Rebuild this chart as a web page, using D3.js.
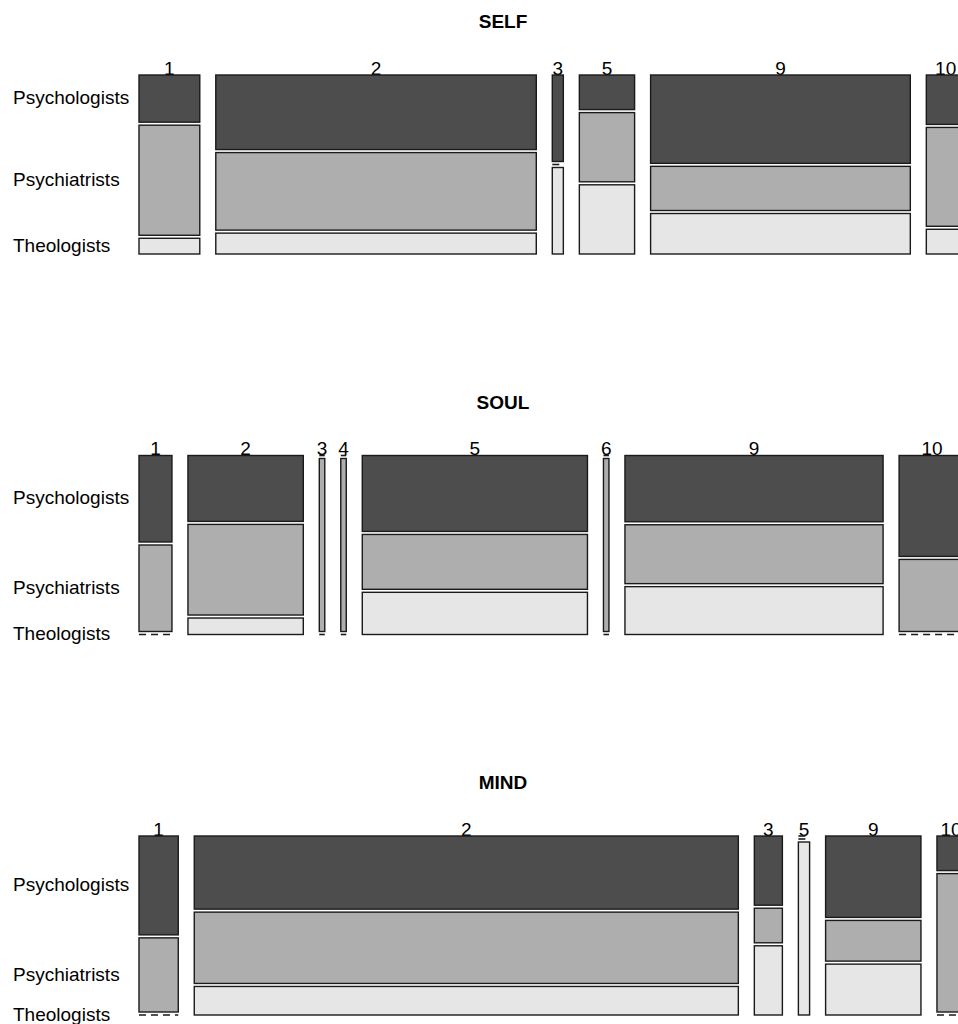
<!DOCTYPE html>
<html>
<head>
<meta charset="utf-8">
<script src="https://cdn.jsdelivr.net/npm/d3@7"></script>
<style>
  html, body { margin: 0; padding: 0; background: #fff; overflow: hidden; }
  text { font-family: "Liberation Sans", Arial, Helvetica, sans-serif; fill: #000; }
</style>
</head>
<body>
<svg id="chart"></svg>
<script>
// Row variable (same for every panel)
const professions = ["Psychologists", "Psychiatrists", "Theologists"];

// SELF panel
const selfCategories = ["1", "2", "3", "5", "9", "10"];
const selfPsychologists = [3, 25, 1, 2, 24, 2];
const selfPsychiatrists = [7, 26, 0, 4, 12, 4];
const selfTheologists = [1, 7, 1, 4, 11, 1];

// SOUL panel
const soulCategories = ["1", "2", "3", "4", "5", "6", "9", "10"];
const soulPsychologists = [3, 8, 0, 0, 18, 0, 18, 7];
const soulPsychiatrists = [3, 11, 1, 1, 13, 1, 16, 5];
const soulTheologists = [0, 2, 0, 0, 10, 0, 13, 0];

// MIND panel
const mindCategories = ["1", "2", "3", "5", "9", "10"];
const mindPsychologists = [4, 41, 2, 0, 8, 1];
const mindPsychiatrists = [3, 40, 1, 0, 4, 4];
const mindTheologists = [0, 16, 2, 2, 5, 0];

const panels = [
  { title: "SELF", cats: selfCategories, counts: [selfPsychologists, selfPsychiatrists, selfTheologists] },
  { title: "SOUL", cats: soulCategories, counts: [soulPsychologists, soulPsychiatrists, soulTheologists] },
  { title: "MIND", cats: mindCategories, counts: [mindPsychologists, mindPsychiatrists, mindTheologists] }
];

// grey.colors(3) like R
const fills = ["#4D4D4D", "#AEAEAE", "#E6E6E6"];

// Layout
const left = 139;
const plotW = 826;
const colGap = 16;
const rowGap = 3;
const boxH = 179;
const firstTop = 75;
const panelStep = 380.5;

const svg = d3.select("#chart")
  .attr("width", 1000)
  .attr("height", 1024);

panels.forEach((p, pi) => {
  const top = firstTop + pi * panelStep;
  const g = svg.append("g");

  // title
  g.append("text")
    .attr("x", 503)
    .attr("y", top - 47)
    .attr("text-anchor", "middle")
    .style("font-size", "19px")
    .style("font-weight", "bold")
    .text(p.title);

  const n = p.cats.length;
  const totals = p.cats.map((c, j) => d3.sum(p.counts, r => r[j]));
  const grand = d3.sum(totals);
  const starts = [0, ...d3.cumsum(totals)];

  // column widths proportional to column totals
  const xScale = d3.scaleLinear()
    .domain([0, grand])
    .range([0, plotW - colGap * (n - 1)]);

  p.cats.forEach((cat, j) => {
    const x0 = left + xScale(starts[j]) + j * colGap;
    const w = xScale(totals[j]);

    // column label
    g.append("text")
      .attr("x", x0 + w / 2)
      .attr("y", top - 0.5)
      .attr("text-anchor", "middle")
      .style("font-size", "19px")
      .text(cat);

    // heights inside the column
    const yScale = d3.scaleLinear()
      .domain([0, totals[j]])
      .range([0, boxH - rowGap * (professions.length - 1)]);

    let cursor = top;
    professions.forEach((prof, i) => {
      const v = p.counts[i][j];
      let mid;
      if (v > 0) {
        const h = yScale(v);
        g.append("rect")
          .attr("x", x0)
          .attr("y", cursor)
          .attr("width", w)
          .attr("height", h)
          .attr("fill", fills[i])
          .attr("stroke", "#1a1a1a")
          .attr("stroke-width", 1.4);
        mid = cursor + h / 2;
        cursor += h + rowGap;
      } else {
        // empty cell -> dashed line
        g.append("line")
          .attr("x1", x0)
          .attr("x2", x0 + w)
          .attr("y1", cursor)
          .attr("y2", cursor)
          .attr("stroke", "#1a1a1a")
          .attr("stroke-width", 1.6)
          .attr("stroke-dasharray", "7,5");
        mid = cursor;
        cursor += rowGap;
      }

      // row labels follow the first column
      if (j === 0) {
        g.append("text")
          .attr("x", 13)
          .attr("y", mid)
          .attr("dy", "0.3em")
          .style("font-size", "19px")
          .text(prof);
      }
    });
  });
});
</script>
</body>
</html>
